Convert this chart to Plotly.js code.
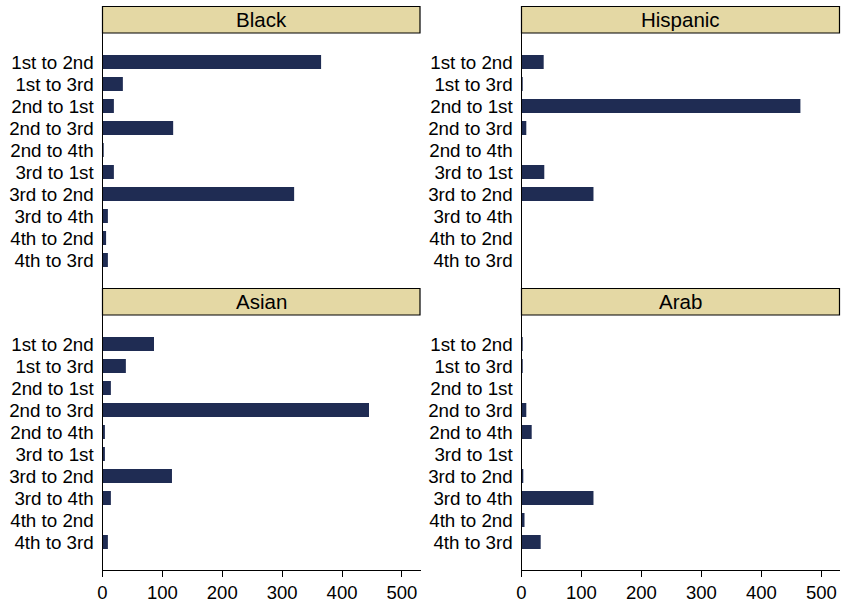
<!DOCTYPE html>
<html>
<head>
<meta charset="utf-8">
<script src="https://cdn.plot.ly/plotly-3.0.1.min.js"></script>
<style>
  html, body { margin: 0; padding: 0; background: #ffffff; }
  #chart { width: 841px; height: 602px; }
</style>
</head>
<body>
<div id="chart"></div>
<script>
// Transitions between positions, one row per category
const categories = ["1st to 2nd", "1st to 3rd", "2nd to 1st", "2nd to 3rd", "2nd to 4th",
                    "3rd to 1st", "3rd to 2nd", "3rd to 4th", "4th to 2nd", "4th to 3rd"];

const groups = ["Black", "Hispanic", "Asian", "Arab"];

const blackCounts    = [365, 34, 19, 118, 2, 19, 320, 9, 6, 9];
const hispanicCounts = [37, 2, 465, 8, 0, 38, 120, 0, 0, 0];
const asianCounts    = [86, 39, 14, 445, 4, 4, 116, 14, 0, 9];
const arabCounts     = [2, 2, 0, 8, 17, 0, 3, 120, 5, 32];

const xTicks = [0, 100, 200, 300, 400, 500];

const W = 841, H = 602;
const px = v => v / W;           // horizontal pixel -> paper
const py = v => 1 - v / H;       // vertical pixel (from top) -> paper

const barColor = "#1f2c53";
const stripFill = "#e4d8a4";
const font = "Liberation Sans, Arial, sans-serif";

// panel geometry: [xLeft, xRight] and [yTop, yBottom] in pixels
const cols = [[102.5, 420.5], [521.5, 840]];
const rows = [[33, 288], [315, 570]];
const stripH = 26.5;

const seriesList = [blackCounts, hispanicCounts, asianCounts, arabCounts];
const traces = [];
const layout = {
  width: W, height: H,
  margin: {l: 0, r: 0, t: 0, b: 0},
  paper_bgcolor: "#ffffff",
  plot_bgcolor: "#ffffff",
  showlegend: false,
  font: {family: font, color: "#000000"},
  shapes: [],
  annotations: []
};

seriesList.forEach((vals, i) => {
  const r = Math.floor(i / 2), c = i % 2;
  const n = i === 0 ? "" : String(i + 1);
  traces.push({
    type: "bar",
    orientation: "h",
    x: vals,
    y: categories,
    width: 0.64,
    marker: {color: barColor, line: {width: 0}},
    xaxis: "x" + n,
    yaxis: "y" + n,
    hoverinfo: "x+y"
  });

  const bottomRow = r === 1;
  layout["xaxis" + n] = {
    domain: [px(cols[c][0]), px(cols[c][1])],
    anchor: "y" + n,
    range: [0, 531],
    tickmode: "array",
    tickvals: xTicks,
    ticktext: xTicks.map(String),
    showticklabels: bottomRow,
    ticks: bottomRow ? "outside" : "",
    ticklen: 6,
    tickwidth: 1,
    tickcolor: "#000000",
    showline: bottomRow,
    linecolor: "#000000",
    linewidth: 1,
    showgrid: false,
    zeroline: false,
    tickfont: {family: font, size: 18.5, color: "#000000"},
    automargin: false,
    fixedrange: true
  };
  layout["yaxis" + n] = {
    domain: [py(rows[r][1]), py(rows[r][0])],
    anchor: "x" + n,
    type: "category",
    categoryorder: "array",
    categoryarray: categories,
    tickmode: "array",
    tickvals: categories,
    ticktext: categories,
    range: [10.27, -1.32],
    showline: true,
    linecolor: "#000000",
    linewidth: 1,
    ticks: "",
    ticklabelstandoff: 4,
    showgrid: false,
    zeroline: false,
    tickfont: {family: font, size: 18.8, color: "#000000"},
    automargin: false,
    fixedrange: true
  };

  // header strip above each panel
  const top = rows[r][0];
  layout.shapes.push({
    type: "rect", xref: "paper", yref: "paper",
    x0: px(cols[c][0]), x1: px(cols[c][1] - 0.5),
    y0: py(top), y1: py(top - stripH),
    fillcolor: stripFill,
    line: {color: "#000000", width: 1.2},
    layer: "above"
  });
  layout.annotations.push({
    xref: "paper", yref: "paper",
    x: px((cols[c][0] + cols[c][1]) / 2),
    y: py(top - stripH / 2),
    xanchor: "center", yanchor: "middle",
    text: groups[i],
    showarrow: false,
    font: {family: font, size: 20.5, color: "#000000"}
  });
});

Plotly.newPlot("chart", traces, layout, {staticPlot: true, displayModeBar: false});
</script>
</body>
</html>
